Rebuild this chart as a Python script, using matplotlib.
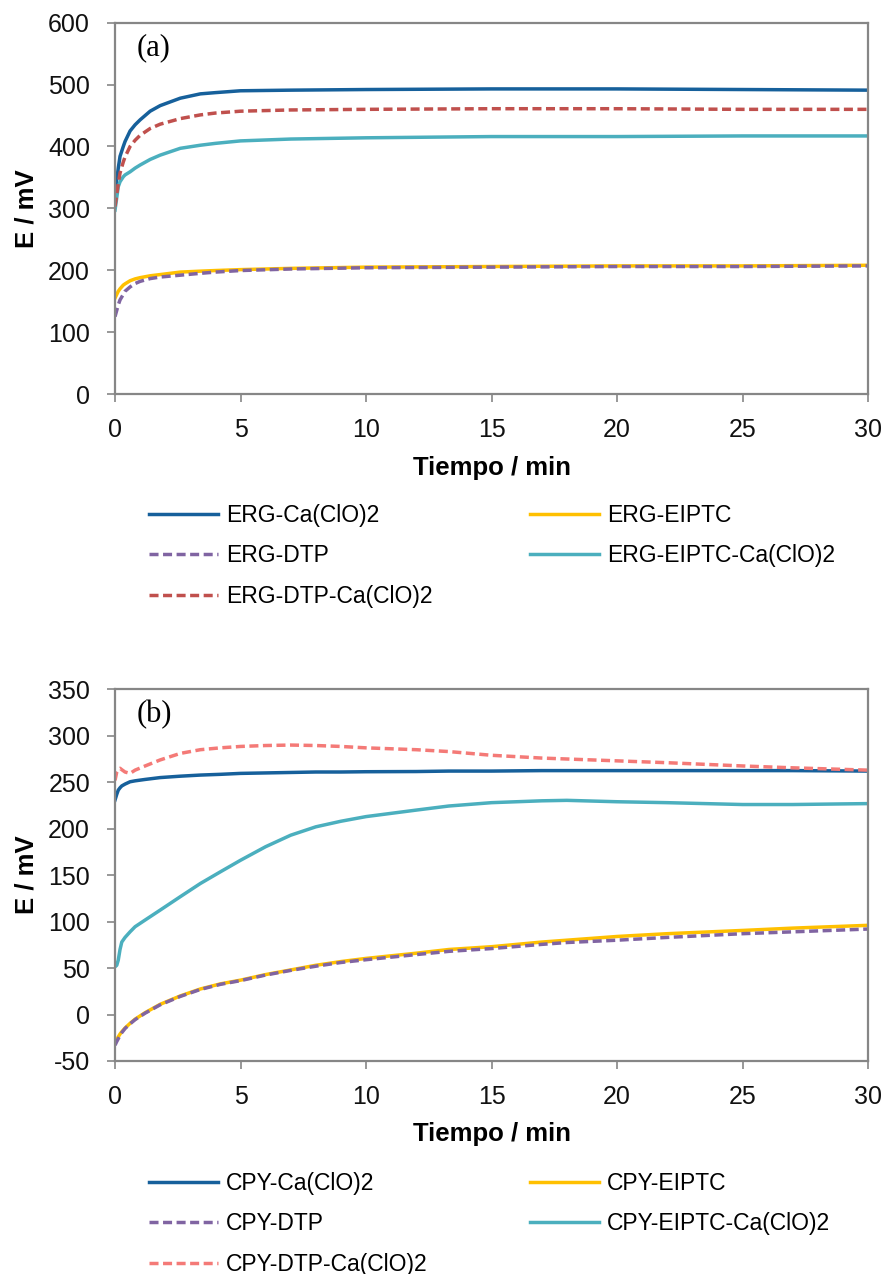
import matplotlib
matplotlib.use("Agg")
import matplotlib.pyplot as plt
from matplotlib.lines import Line2D

# ---- Panel (a): ERG series (time in min, potential in mV) ----
t_a = [0, 0.13, 0.2, 0.33, 0.4, 0.6, 0.8, 1.0, 1.4, 1.8, 2.6, 3.4, 4, 5, 7,
       10, 15, 20, 25, 30]
erg_ca = [325, 365, 384, 400, 408, 425, 435, 443, 457, 466, 478, 485, 487,
          490, 491, 492, 493, 493, 492, 491]
erg_eiptc = [155, 166, 170, 176, 178, 183, 186, 188, 191, 193, 197, 198.5,
             199.5, 201, 203, 205, 206, 207, 207, 208]
erg_dtp = [125, 144, 152, 161, 166, 173, 178.5, 182, 186.5, 189, 192, 195,
           197, 199.5, 202, 204, 205, 206, 206, 207]
erg_eiptc_ca = [297, 335, 343, 351, 354, 359, 365, 370, 379, 386, 397, 402,
                405, 409, 412, 414, 416, 416, 417, 417]
erg_dtp_ca = [303, 340, 357, 375, 383, 400, 410, 418, 429, 436, 445, 451,
              454, 457, 459, 460, 461, 461, 460, 460]

# ---- Panel (b): CPY series ----
t_b = [0, 0.07, 0.13, 0.2, 0.27, 0.4, 0.6, 0.8, 1.2, 1.8, 2.6, 3.4, 4.2, 5,
       6, 7, 8, 9, 10, 12, 13.3, 15, 17, 18, 20, 22, 25, 27, 30]
cpy_ca = [230.8, 237, 241.5, 244, 246, 248, 250.5, 251.5, 253, 255, 256.5,
          257.7, 258.5, 259.5, 260, 260.5, 261, 261, 261.3, 261.5, 262, 262,
          262.5, 262.5, 262.5, 262.5, 262.5, 262.5, 262]
cpy_eiptc = [-30, -27, -24, -21, -18.5, -14.5, -9.5, -5, 2, 11, 20, 27.5, 33,
             37, 43, 48, 53, 57, 60.4, 66, 70, 73, 78, 80, 84, 87, 90.5, 93, 96]
cpy_dtp = [-33, -29, -26, -22.5, -19.5, -15, -10, -5.5, 1.5, 10.5, 19.5, 27,
           32.5, 36.5, 42.5, 47.5, 52, 56, 59, 64.5, 68, 71, 75.5, 77.5, 80,
           83, 87, 89, 92]
cpy_eiptc_ca = [51.4, 53, 58.6, 70, 78, 83, 89, 94.5, 101.7, 112.4, 126.8,
                141, 153.6, 166, 180.6, 193, 202, 208, 213, 220, 224.4, 228,
                230, 230.5, 229, 228, 226, 226, 227]
cpy_dtp_ca = [252, 261, 264, 265, 263.5, 261, 259.5, 263, 267.5, 274, 281,
              285, 287, 288.5, 289.5, 290, 289.5, 288.5, 287, 285, 283, 279,
              276, 275, 273, 271, 267.5, 265.5, 263]

time_ticks = [0, 5, 10, 15, 20, 25, 30]
yticks_a = [0, 100, 200, 300, 400, 500, 600]
yticks_b = [-50, 0, 50, 100, 150, 200, 250, 300, 350]

C_BLUE = "#16609B"
C_YELLOW = "#FFC000"
C_PURPLE = "#8064A2"
C_TEAL = "#4BAFBE"
C_RED = "#C0504D"
C_PINK = "#F47A77"
FRAME = "#868686"

SANS = "Liberation Sans"
SERIF = "Liberation Serif"
plt.rcParams["font.family"] = [SANS, "DejaVu Sans"]
plt.rcParams["axes.unicode_minus"] = False

W, H = 888, 1274
fig = plt.figure(figsize=(W / 100, H / 100), dpi=100)


def box(l, t, r, b):
    return [l / W, 1 - b / H, (r - l) / W, (b - t) / H]


LW = 2.5
DASH = (2.6, 1.3)


def style_axes(ax, yticks, ylim, tag):
    ax.set_xlim(0, 30)
    ax.set_ylim(*ylim)
    ax.set_xticks(time_ticks)
    ax.set_yticks(yticks)
    for s in ax.spines.values():
        s.set_color(FRAME)
        s.set_linewidth(1.6)
    ax.tick_params(axis="both", direction="out", length=6, width=1.2,
                   color=FRAME, labelsize=18, pad=11, labelcolor="#111111")
    ax.tick_params(axis="y", pad=12)
    ax.set_xlabel("Tiempo / min", fontsize=18.5, fontweight="bold",
                  labelpad=10)
    ax.set_ylabel("E / mV", fontsize=18.5, fontweight="bold", labelpad=7)
    ax.text(0.029, 0.972, tag, transform=ax.transAxes, fontsize=22,
            family=SERIF, va="top", ha="left")


def add_legends(series, y_top):
    left = [series[0], series[2], series[4]]
    right = [series[1], series[3]]
    for group, x in ((left, 149), (right, 530)):
        handles = []
        for (_, c, ls) in group:
            if ls == "--":
                handles.append(Line2D([], [], color=c, lw=LW, dashes=DASH))
            else:
                handles.append(Line2D([], [], color=c, lw=LW))
        labels = [lab for (lab, _, _) in group]
        fig.legend(handles, labels, loc="upper left",
                   bbox_to_anchor=(x / W, 1 - y_top / H),
                   frameon=False, fontsize=16.5, handlelength=3.0,
                   handletextpad=0.35, labelspacing=0.76, borderpad=0,
                   borderaxespad=0)


def draw(ax, t, series, order):
    for i in order:
        lab, c, ls, vals = series[i]
        if ls == "--":
            ax.plot(t, vals, color=c, lw=LW, dashes=DASH, label=lab)
        else:
            ax.plot(t, vals, color=c, lw=LW, label=lab)


# Panel (a)
ax1 = fig.add_axes(box(115, 22.7, 868, 394))
series_a = [
    ("ERG-Ca(ClO)2", C_BLUE, "-", erg_ca),
    ("ERG-EIPTC", C_YELLOW, "-", erg_eiptc),
    ("ERG-DTP", C_PURPLE, "--", erg_dtp),
    ("ERG-EIPTC-Ca(ClO)2", C_TEAL, "-", erg_eiptc_ca),
    ("ERG-DTP-Ca(ClO)2", C_RED, "--", erg_dtp_ca),
]
draw(ax1, t_a, series_a, [0, 1, 2, 3, 4])
style_axes(ax1, yticks_a, (0, 600), "(a)")
add_legends([(l, c, s) for l, c, s, _ in series_a], 504)

# Panel (b)
ax2 = fig.add_axes(box(115, 689.3, 868, 1061))
series_b = [
    ("CPY-Ca(ClO)2", C_BLUE, "-", cpy_ca),
    ("CPY-EIPTC", C_YELLOW, "-", cpy_eiptc),
    ("CPY-DTP", C_PURPLE, "--", cpy_dtp),
    ("CPY-EIPTC-Ca(ClO)2", C_TEAL, "-", cpy_eiptc_ca),
    ("CPY-DTP-Ca(ClO)2", C_PINK, "--", cpy_dtp_ca),
]
draw(ax2, t_b, series_b, [3, 0, 1, 2, 4])
style_axes(ax2, yticks_b, (-50, 350), "(b)")
add_legends([(l, c, s) for l, c, s, _ in series_b], 1172)

fig.savefig("out.png", dpi=100)
